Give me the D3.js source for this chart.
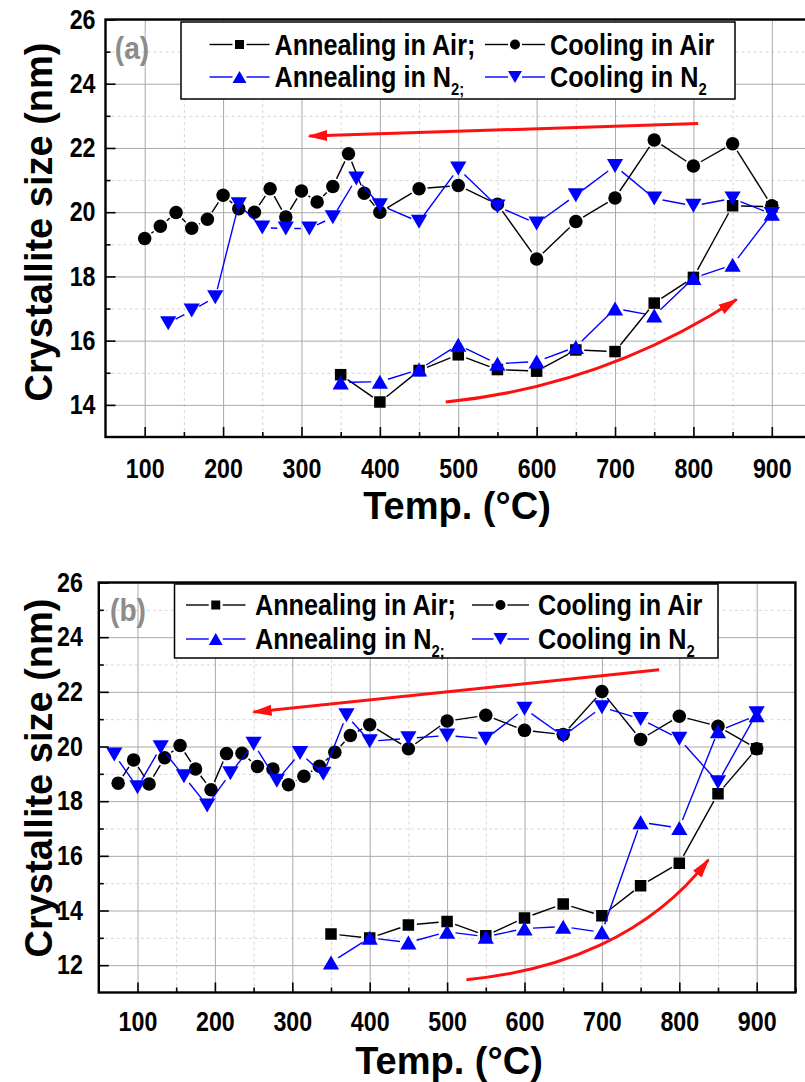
<html>
<head>
<script src="https://d3js.org/d3.v7.min.js"></script>
<style>
  body { margin: 0; background: #fff; }
  text { font-family: "Liberation Sans", Arial, sans-serif; font-weight: bold; }
  .grid-major line { stroke: #a9a9a9; stroke-width: 1; }
  .grid-minor line { stroke: #d6d6d6; stroke-width: 1; stroke-dasharray: 3,3; }
  .axis .domain { display: none; }
  .axis line { stroke: #000; stroke-width: 1.6; }
</style>
</head>
<body>
<svg width="805" height="1082" id="chart"></svg>
<script>
// ---- panel (a) ----
const annealTempA = [350, 400, 450, 500, 550, 600, 650, 700, 750, 800, 850, 900];
const annealAirA = [14.94, 14.09, 15.07, 15.56, 15.10, 15.05, 15.71, 15.66, 17.17, 17.97, 20.20, 20.17];
const annealN2A = [14.70, 14.72, 15.10, 15.87, 15.28, 15.35, 15.80, 17.00, 16.78, 17.95, 18.36, 19.95];
const coolAirTempA = [100, 120, 140, 160, 180, 200, 220, 240, 260, 280, 300, 320, 340, 360, 380, 400,
  450, 500, 550, 600, 650, 700, 750, 800, 850, 900];
const coolAirA = [19.18, 19.56, 19.99, 19.50, 19.78, 20.53, 20.11, 20.00, 20.73, 19.85, 20.66, 20.32, 20.80, 21.82, 20.59, 20.00,
  20.73, 20.83, 20.25, 18.54, 19.71, 20.44, 22.25, 21.44, 22.13, 20.20];
const coolN2TempA = [130, 160, 190, 220, 250, 280, 310, 340, 370, 400,
  450, 500, 550, 600, 650, 700, 750, 800, 850, 900];
const coolN2A = [16.54, 16.94, 17.35, 20.25, 19.52, 19.49, 19.49, 19.84, 21.05, 20.22,
  19.70, 21.36, 20.18, 19.65, 20.53, 21.44, 20.43, 20.20, 20.43, 19.94];

// ---- panel (b) ----
const annealTempB = [350, 400, 450, 500, 550, 600, 650, 700, 750, 800, 850, 900];
const annealAirB = [13.14, 12.99, 13.47, 13.60, 13.08, 13.73, 14.24, 13.81, 14.91, 15.73, 18.27, 19.92];
const annealN2B = [12.10, 13.00, 12.83, 13.22, 13.04, 13.34, 13.41, 13.20, 17.23, 17.02, 20.56, 21.14];
const coolAirTempB = [75, 95, 115, 135, 155, 175, 195, 215, 235, 255, 275, 295, 315, 335, 355, 375,
  400, 450, 500, 550, 600, 650, 700, 750, 800, 850, 900];
const coolAirB = [18.66, 19.51, 18.63, 19.59, 20.04, 19.18, 18.42, 19.74, 19.75, 19.27, 19.18, 18.60, 18.91, 19.28, 19.79, 20.40,
  20.80, 19.92, 20.93, 21.14, 20.59, 20.44, 22.01, 20.26, 21.11, 20.74, 19.92];
const coolN2TempB = [70, 100, 130, 160, 190, 220, 250, 280, 310, 340, 370,
  400, 450, 500, 550, 600, 650, 700, 750, 800, 850, 900];
const coolN2B = [19.71, 18.51, 19.97, 18.91, 17.84, 19.02, 20.10, 18.75, 19.76, 19.00, 21.14,
  20.19, 20.30, 20.40, 20.28, 21.38, 20.38, 21.44, 21.01, 20.28, 18.69, 21.22];

// arrows in data units: [x, y]
const arrowTopA = [[806, 22.76], [310, 22.37]];
const arrowCurveA = [[484, 14.09], [684, 14.58], [855, 17.28]];
const arrowTopB = [[774, 22.81], [250, 21.26]];
const arrowCurveB = [[525, 11.47], [646, 11.79], [762, 13.08], [837.5, 15.85]];

const xTickLabels = [100, 200, 300, 400, 500, 600, 700, 800, 900];
const legendNames = ["Annealing in Air;", "Cooling in Air", "Annealing in N", "Cooling in N"];
const legendSubs = ["", "", "2;", "2"];

const BLUE = "#0000ff";
const RED = "#ff1010";

const svg = d3.select("#chart");

// squeeze text sideways, the original uses a narrow bold face
function condense(sel, f) {
  sel.each(function () {
    const w = this.getComputedTextLength();
    d3.select(this).attr("textLength", w * f).attr("lengthAdjust", "spacingAndGlyphs");
  });
}

const defs = svg.append("defs");
defs.append("marker")
  .attr("id", "head")
  .attr("markerUnits", "userSpaceOnUse")
  .attr("viewBox", "0 -6 20 12")
  .attr("refX", 18).attr("refY", 0)
  .attr("markerWidth", 20).attr("markerHeight", 12)
  .attr("orient", "auto")
  .append("path").attr("d", "M0,-5.5L20,0L0,5.5Z").attr("fill", RED);

function symbolPath(kind, s) {
  if (kind === "square") return `M${-s / 2},${-s / 2}h${s}v${s}h${-s}Z`;
  if (kind === "circle") { const r = s / 2; return `M${-r},0a${r},${r} 0 1,0 ${2 * r},0a${r},${r} 0 1,0 ${-2 * r},0`; }
  const w = s * 0.58, h = s * 0.5;
  if (kind === "up") return `M0,${-h}L${w},${h}L${-w},${h}Z`;
  return `M0,${h}L${w},${-h}L${-w},${-h}Z`;
}

function drawPanel(p) {
  const g = svg.append("g");
  const x = d3.scaleLinear().domain([50, 950]).range([p.left, p.right]);
  const y = d3.scaleLinear().domain(p.yDomain).range([p.bottom, p.top]);
  const plotW = p.right - p.left, plotH = p.bottom - p.top;

  const clip = "clip-" + p.id;
  defs.append("clipPath").attr("id", clip)
    .append("rect").attr("x", p.left).attr("y", p.top).attr("width", plotW).attr("height", plotH);

  const yMajor = d3.range(p.yDomain[0] + 1, p.yDomain[1] + 1, 2);
  const yMinor = d3.range(p.yDomain[0] + 2, p.yDomain[1], 2);
  const xMajor = xTickLabels;
  const xMinor = d3.range(150, 951, 100);

  // gridlines
  g.append("g").attr("class", "grid-minor").attr("transform", `translate(${p.left},0)`)
    .call(d3.axisLeft(y).tickValues(yMinor).tickSize(-plotW).tickFormat(""))
    .select(".domain").remove();
  g.append("g").attr("class", "grid-minor").attr("transform", `translate(0,${p.bottom})`)
    .call(d3.axisBottom(x).tickValues(xMinor).tickSize(-plotH).tickFormat(""))
    .select(".domain").remove();
  g.append("g").attr("class", "grid-major").attr("transform", `translate(${p.left},0)`)
    .call(d3.axisLeft(y).tickValues(yMajor).tickSize(-plotW).tickFormat(""))
    .select(".domain").remove();
  g.append("g").attr("class", "grid-major").attr("transform", `translate(0,${p.bottom})`)
    .call(d3.axisBottom(x).tickValues(xMajor).tickSize(-plotH).tickFormat(""))
    .select(".domain").remove();

  // inward ticks
  g.append("g").attr("class", "axis").attr("transform", `translate(${p.left},0)`)
    .call(d3.axisLeft(y).tickValues(yMinor).tickSize(-5).tickFormat(""));
  g.append("g").attr("class", "axis").attr("transform", `translate(0,${p.bottom})`)
    .call(d3.axisBottom(x).tickValues(xMinor).tickSize(-5).tickFormat(""));
  const yAx = g.append("g").attr("class", "axis").attr("transform", `translate(${p.left},0)`)
    .call(d3.axisLeft(y).tickValues(yMajor).tickSize(-10).tickPadding(p.yPad).tickFormat(d3.format("d")));
  const xAx = g.append("g").attr("class", "axis").attr("transform", `translate(0,${p.bottom})`)
    .call(d3.axisBottom(x).tickValues(xMajor).tickSize(-10).tickPadding(p.xPad).tickFormat(d3.format("d")));
  yAx.selectAll("text").style("font-size", "27px").attr("fill", "#000").call(condense, 0.86);
  xAx.selectAll("text").style("font-size", "27px").attr("fill", "#000").call(condense, 0.86);

  // frame
  g.append("rect").attr("x", p.left).attr("y", p.top).attr("width", plotW).attr("height", plotH)
    .attr("fill", "none").attr("stroke", "#000").attr("stroke-width", 2.4);

  // series
  const series = [
    { t: p.annealT, v: p.annealAir, color: "#000", sym: "square", size: 11.5 },
    { t: p.coolAirT, v: p.coolAir, color: "#000", sym: "circle", size: 13.5 },
    { t: p.annealT, v: p.annealN2, color: BLUE, sym: "up", size: 14 },
    { t: p.coolN2T, v: p.coolN2, color: BLUE, sym: "down", size: 14 }
  ];
  const data = g.append("g").attr("clip-path", `url(#${clip})`);
  const gap = 8.5;
  series.forEach(s => {
    const pts = s.t.map((t, i) => [x(t), y(s.v[i])]);
    const segs = d3.pairs(pts).map(([a, b]) => {
      const dx = b[0] - a[0], dy = b[1] - a[1], len = Math.hypot(dx, dy);
      if (len <= 2 * gap) return null;
      const ux = dx / len, uy = dy / len;
      return [a[0] + ux * gap, a[1] + uy * gap, b[0] - ux * gap, b[1] - uy * gap];
    }).filter(d => d);
    data.append("g").selectAll("line").data(segs).join("line")
      .attr("x1", d => d[0]).attr("y1", d => d[1]).attr("x2", d => d[2]).attr("y2", d => d[3])
      .attr("stroke", s.color).attr("stroke-width", 1.4);
    data.append("g").selectAll("path").data(pts).join("path")
      .attr("transform", d => `translate(${d[0]},${d[1]})`)
      .attr("d", symbolPath(s.sym, s.size))
      .attr("fill", s.color);
  });

  // arrows
  const line = d3.line().x(d => x(d[0])).y(d => y(d[1]));
  g.append("path").attr("d", line(p.arrowTop))
    .attr("fill", "none").attr("stroke", RED).attr("stroke-width", 3).attr("marker-end", "url(#head)");
  const c = p.arrowCurve.map(d => [x(d[0]), y(d[1])]);
  const curveD = c.length === 3
    ? `M${c[0]}Q${c[1]} ${c[2]}`
    : `M${c[0]}C${c[1]} ${c[2]} ${c[3]}`;
  g.append("path").attr("d", curveD)
    .attr("fill", "none").attr("stroke", RED).attr("stroke-width", 3).attr("marker-end", "url(#head)");

  // legend
  const L = p.legend;
  g.append("rect").attr("x", L.x0).attr("y", L.y0).attr("width", L.x1 - L.x0).attr("height", L.y1 - L.y0)
    .attr("fill", "#fff").attr("stroke", "#000").attr("stroke-width", 1.5);
  const items = [
    { i: 0, color: "#000", sym: "square", size: 9, col: 0, row: 0 },
    { i: 1, color: "#000", sym: "circle", size: 10, col: 1, row: 0 },
    { i: 2, color: BLUE, sym: "up", size: 12, col: 0, row: 1 },
    { i: 3, color: BLUE, sym: "down", size: 12, col: 1, row: 1 }
  ];
  items.forEach(it => {
    const cy = L.rows[it.row];
    const [s0, s1, tx] = L.cols[it.col];
    const mid = (s0 + s1) / 2;
    const lg = g.append("g");
    lg.append("line").attr("x1", s0).attr("x2", mid - 7).attr("y1", cy).attr("y2", cy)
      .attr("stroke", it.color).attr("stroke-width", 1.4);
    lg.append("line").attr("x1", mid + 7).attr("x2", s1).attr("y1", cy).attr("y2", cy)
      .attr("stroke", it.color).attr("stroke-width", 1.4);
    lg.append("path").attr("transform", `translate(${mid},${cy})`)
      .attr("d", symbolPath(it.sym, it.size)).attr("fill", it.color);
    const t = lg.append("text")
      .attr("transform", `translate(${tx},${cy}) scale(0.87,1)`)
      .attr("dy", "0.36em").style("font-size", "29px");
    t.append("tspan").text(legendNames[it.i]);
    if (legendSubs[it.i]) {
      t.append("tspan").attr("dy", 8).style("font-size", "17px").text(legendSubs[it.i]);
    }
  });

  // panel label
  g.append("text").attr("x", p.tag[0]).attr("y", p.tag[1]).attr("dy", "0.36em")
    .attr("text-anchor", "middle").attr("fill", "#8c8c8c").style("font-size", "32px").text(p.tagText)
    .call(condense, 0.88);

  // axis titles
  g.append("text").attr("transform", `translate(${p.yTitle[0]},${p.yTitle[1]}) rotate(-90)`)
    .attr("text-anchor", "middle").attr("dy", "0.36em").style("font-size", "38px")
    .text("Crystallite size (nm)");
  g.append("text").attr("x", p.xTitle[0]).attr("y", p.xTitle[1]).attr("dy", "0.36em")
    .attr("text-anchor", "middle").style("font-size", "38px").text("Temp. (°C)");
}

drawPanel({
  id: "a", left: 105.5, right: 811, top: 19.5, bottom: 437, yDomain: [13, 26],
  yPad: 10, xPad: 22,
  annealT: annealTempA, annealAir: annealAirA, annealN2: annealN2A,
  coolAirT: coolAirTempA, coolAir: coolAirA, coolN2T: coolN2TempA, coolN2: coolN2A,
  arrowTop: arrowTopA, arrowCurve: arrowCurveA,
  legend: { x0: 181, y0: 22, x1: 735, y1: 99, rows: [44.5, 77],
    cols: [[209.5, 269.5, 274.5], [485, 545, 550]] },
  tag: [132, 47], tagText: "(a)",
  yTitle: [38, 222], xTitle: [457, 505]
});

drawPanel({
  id: "b", left: 98.8, right: 795.4, top: 582.5, bottom: 992.5, yDomain: [11, 26],
  yPad: 16, xPad: 19,
  annealT: annealTempB, annealAir: annealAirB, annealN2: annealN2B,
  coolAirT: coolAirTempB, coolAir: coolAirB, coolN2T: coolN2TempB, coolN2: coolN2B,
  arrowTop: arrowTopB, arrowCurve: arrowCurveB,
  legend: { x0: 174.5, y0: 584, x1: 718, y1: 658, rows: [605, 639],
    cols: [[186, 245.5, 255], [472, 529, 538]] },
  tag: [128, 609], tagText: "(b)",
  yTitle: [38, 778], xTitle: [449, 1060]
});
</script>
</body>
</html>
